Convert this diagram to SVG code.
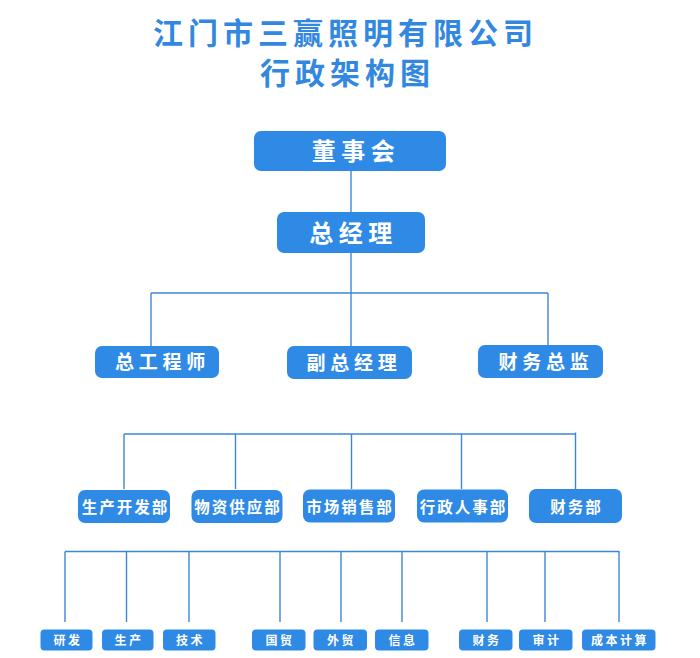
<svg xmlns="http://www.w3.org/2000/svg" width="700" height="658" viewBox="0 0 700 658">
<style>
.title{font-family:"Noto Sans CJK SC","Noto Sans CJK TC",sans-serif;font-weight:bold;fill:#3288e0;font-size:30px;letter-spacing:5px;text-anchor:middle}
.box{fill:#2f8ae6}
.t{font-family:"Noto Sans CJK SC","Noto Sans CJK TC",sans-serif;font-weight:bold;fill:#ffffff;text-anchor:middle}
.t1{font-size:24px;letter-spacing:5.5px}
.t3{font-size:19px;letter-spacing:4.7px}
.t4{font-size:15.5px;letter-spacing:2px}
.t5{font-size:12px;letter-spacing:2.5px}
.conn line{stroke:#3b87d9;stroke-width:1.4;fill:none}
</style>
<rect width="700" height="658" fill="#ffffff"/>
<g id="title">
<text class="title" x="345.5" y="44">江门市三赢照明有限公司</text>
<text class="title" x="347.5" y="84">行政架构图</text>
</g>
<g class="conn" id="connectors">
<line x1="351" y1="171" x2="351" y2="212"/>
<line x1="351" y1="253" x2="351" y2="346"/>
<line x1="151" y1="293" x2="548" y2="293"/>
<line x1="151" y1="293" x2="151" y2="346"/>
<line x1="548" y1="293" x2="548" y2="345"/>
<line x1="124" y1="434" x2="576" y2="434"/>
<line x1="124" y1="434" x2="124" y2="489"/>
<line x1="235.5" y1="434" x2="235.5" y2="489"/>
<line x1="351.5" y1="434" x2="351.5" y2="489"/>
<line x1="461.5" y1="434" x2="461.5" y2="489"/>
<line x1="575.5" y1="432.5" x2="575.5" y2="489"/>
<line x1="65" y1="551.5" x2="619.5" y2="551.5"/>
<line x1="65" y1="551.5" x2="65" y2="622"/>
<line x1="126.5" y1="551.5" x2="126.5" y2="622"/>
<line x1="189" y1="551.5" x2="189" y2="622"/>
<line x1="280" y1="551.5" x2="280" y2="622"/>
<line x1="341" y1="551.5" x2="341" y2="622"/>
<line x1="402" y1="551.5" x2="402" y2="622"/>
<line x1="487" y1="551.5" x2="487" y2="622"/>
<line x1="545" y1="551.5" x2="545" y2="622"/>
<line x1="619" y1="551.5" x2="619" y2="622"/>
</g>
<g id="n-board"><rect class="box" x="254" y="131" width="192" height="40" rx="7"/><text class="t t1" x="356" y="160">董事会</text></g>
<g id="n-gm"><rect class="box" x="277" y="212" width="148" height="41" rx="7"/><text class="t t1" x="353.5" y="242">总经理</text></g>
<g id="n-chief-eng"><rect class="box" x="95" y="346" width="124" height="32" rx="7"/><text class="t t3" x="162.5" y="369">总工程师</text></g>
<g id="n-vgm"><rect class="box" x="287" y="346" width="125" height="33" rx="7"/><text class="t t3" x="354" y="369.5">副总经理</text></g>
<g id="n-cfo"><rect class="box" x="478" y="345" width="125" height="33" rx="7"/><text class="t t3" x="546" y="368.5">财务总监</text></g>
<g id="n-prod-dev"><rect class="box" x="78" y="490" width="92" height="33" rx="7"/><text class="t t4" x="125.5" y="513">生产开发部</text></g>
<g id="n-supply"><rect class="box" x="191.5" y="490" width="91" height="33" rx="7"/><text class="t t4" x="238" y="513">物资供应部</text></g>
<g id="n-market"><rect class="box" x="303" y="489.5" width="92" height="33" rx="7"/><text class="t t4" x="350" y="512.5">市场销售部</text></g>
<g id="n-admin"><rect class="box" x="417" y="489.5" width="91" height="33" rx="7"/><text class="t t4" x="463.5" y="512.5">行政人事部</text></g>
<g id="n-finance"><rect class="box" x="529" y="489" width="93" height="34" rx="7"/><text class="t t4" x="576.5" y="512.5">财务部</text></g>
<g id="n-rd"><rect class="box" x="40.5" y="629.5" width="52" height="21" rx="4"/><text class="t t5" x="68" y="645">研发</text></g>
<g id="n-prod"><rect class="box" x="102" y="629.5" width="51.5" height="21" rx="4"/><text class="t t5" x="129" y="645">生产</text></g>
<g id="n-tech"><rect class="box" x="163" y="629.5" width="52.5" height="21" rx="4"/><text class="t t5" x="190.5" y="645">技术</text></g>
<g id="n-domestic"><rect class="box" x="252" y="629.5" width="53.5" height="21" rx="4"/><text class="t t5" x="280" y="645">国贸</text></g>
<g id="n-foreign"><rect class="box" x="313.5" y="629.5" width="53.5" height="21" rx="4"/><text class="t t5" x="341.5" y="645">外贸</text></g>
<g id="n-info"><rect class="box" x="375" y="629.5" width="53.5" height="21" rx="4"/><text class="t t5" x="403" y="645">信息</text></g>
<g id="n-fin"><rect class="box" x="459" y="629.5" width="53.5" height="21" rx="4"/><text class="t t5" x="487" y="645">财务</text></g>
<g id="n-audit"><rect class="box" x="519" y="629.5" width="53.5" height="21" rx="4"/><text class="t t5" x="547" y="645">审计</text></g>
<g id="n-cost"><rect class="box" x="582" y="629.5" width="73.5" height="21" rx="4"/><text class="t t5" x="620" y="645">成本计算</text></g>
</svg>
